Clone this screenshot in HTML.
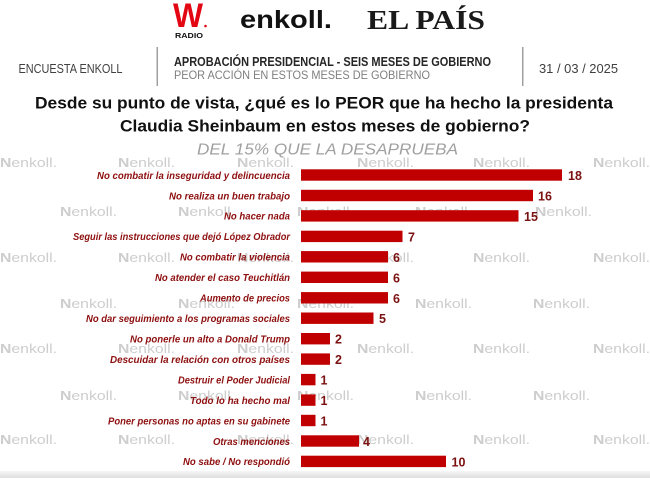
<!DOCTYPE html>
<html>
<head>
<meta charset="utf-8">
<style>
  html,body{margin:0;padding:0;background:#fff;}
  body{width:650px;height:478px;overflow:hidden;}
  svg{display:block;}
  .wm{font-family:"Liberation Sans",sans-serif;font-size:13px;fill:#cdcdcd;}
  .lbl{font-family:"Liberation Sans",sans-serif;font-size:10.5px;font-weight:bold;font-style:italic;fill:#8e0f0f;}
  .val{font-family:"Liberation Sans",sans-serif;font-size:12.5px;font-weight:bold;fill:#7b1111;}
</style>
</head>
<body>
<svg width="650" height="478" viewBox="0 0 650 478" xmlns="http://www.w3.org/2000/svg">
  <defs>
    <linearGradient id="bot" x1="0" y1="0" x2="0" y2="1">
      <stop offset="0" stop-color="#f6f6f6"/>
      <stop offset="1" stop-color="#dedede"/>
    </linearGradient>
  </defs>
  <rect width="650" height="478" fill="#fff"/>

  <!-- Logos -->
  <text x="173" y="27" font-family="Liberation Sans, sans-serif" font-weight="bold" font-size="34" fill="#e30613" textLength="30" lengthAdjust="spacingAndGlyphs">W</text>
  <circle cx="205.5" cy="26" r="1.3" fill="#e30613"/>
  <text x="175" y="38" font-family="Liberation Sans, sans-serif" font-weight="bold" font-size="7.5" fill="#111" textLength="28" lengthAdjust="spacingAndGlyphs">RADIO</text>
  <text x="240" y="28" font-family="Liberation Sans, sans-serif" font-weight="bold" font-size="25" fill="#111" textLength="92" lengthAdjust="spacingAndGlyphs">enkoll.</text>
  <text x="367" y="29" font-family="Liberation Serif, serif" font-weight="bold" font-size="27" fill="#1a1a1a" textLength="118" lengthAdjust="spacingAndGlyphs">EL PAÍS</text>

  <!-- Header row -->
  <text x="18.5" y="73" font-family="Liberation Sans, sans-serif" font-size="12.5" fill="#404040" textLength="104" lengthAdjust="spacingAndGlyphs">ENCUESTA ENKOLL</text>
  <rect x="156.5" y="47" width="1.5" height="39" fill="#a0a0a0"/>
  <rect x="522" y="47" width="1.5" height="39" fill="#a0a0a0"/>
  <text x="174" y="66" font-family="Liberation Sans, sans-serif" font-weight="bold" font-size="12.5" fill="#262626" textLength="317" lengthAdjust="spacingAndGlyphs">APROBACIÓN PRESIDENCIAL - SEIS MESES DE GOBIERNO</text>
  <text x="174" y="79" font-family="Liberation Sans, sans-serif" font-size="12" fill="#7f7f7f" textLength="256" lengthAdjust="spacingAndGlyphs">PEOR ACCIÓN EN ESTOS MESES DE GOBIERNO</text>
  <text x="539" y="73" font-family="Liberation Sans, sans-serif" font-size="12.5" fill="#404040" textLength="79" lengthAdjust="spacingAndGlyphs">31 / 03 / 2025</text>

  <!-- Title -->
  <text x="35" y="108.7" font-family="Liberation Sans, sans-serif" font-weight="bold" font-size="17" fill="#111" textLength="578" lengthAdjust="spacingAndGlyphs">Desde su punto de vista, ¿qué es lo PEOR que ha hecho la presidenta</text>
  <text x="120" y="131.3" font-family="Liberation Sans, sans-serif" font-weight="bold" font-size="17" fill="#111" textLength="410" lengthAdjust="spacingAndGlyphs">Claudia Sheinbaum en estos meses de gobierno?</text>
  <text x="197" y="154.7" font-family="Liberation Sans, sans-serif" font-style="italic" font-size="16" fill="#a0a0a0" textLength="261" lengthAdjust="spacingAndGlyphs">DEL 15% QUE LA DESAPRUEBA</text>

  <!-- Watermarks -->
  <g class="wm">
    <text x="0" y="167" textLength="57" lengthAdjust="spacingAndGlyphs"><tspan font-weight="bold">N</tspan>enkoll.</text>
    <text x="118" y="167" textLength="57" lengthAdjust="spacingAndGlyphs"><tspan font-weight="bold">N</tspan>enkoll.</text>
    <text x="237" y="167" textLength="57" lengthAdjust="spacingAndGlyphs"><tspan font-weight="bold">N</tspan>enkoll.</text>
    <text x="357" y="167" textLength="57" lengthAdjust="spacingAndGlyphs"><tspan font-weight="bold">N</tspan>enkoll.</text>
    <text x="473" y="167" textLength="57" lengthAdjust="spacingAndGlyphs"><tspan font-weight="bold">N</tspan>enkoll.</text>
    <text x="593" y="167" textLength="57" lengthAdjust="spacingAndGlyphs"><tspan font-weight="bold">N</tspan>enkoll.</text>
    <text x="60" y="216" textLength="57" lengthAdjust="spacingAndGlyphs"><tspan font-weight="bold">N</tspan>enkoll.</text>
    <text x="178" y="216" textLength="57" lengthAdjust="spacingAndGlyphs"><tspan font-weight="bold">N</tspan>enkoll.</text>
    <text x="297" y="216" textLength="57" lengthAdjust="spacingAndGlyphs"><tspan font-weight="bold">N</tspan>enkoll.</text>
    <text x="415" y="216" textLength="57" lengthAdjust="spacingAndGlyphs"><tspan font-weight="bold">N</tspan>enkoll.</text>
    <text x="535" y="216" textLength="57" lengthAdjust="spacingAndGlyphs"><tspan font-weight="bold">N</tspan>enkoll.</text>
    <text x="0" y="262" textLength="57" lengthAdjust="spacingAndGlyphs"><tspan font-weight="bold">N</tspan>enkoll.</text>
    <text x="118" y="262" textLength="57" lengthAdjust="spacingAndGlyphs"><tspan font-weight="bold">N</tspan>enkoll.</text>
    <text x="237" y="262" textLength="57" lengthAdjust="spacingAndGlyphs"><tspan font-weight="bold">N</tspan>enkoll.</text>
    <text x="357" y="262" textLength="57" lengthAdjust="spacingAndGlyphs"><tspan font-weight="bold">N</tspan>enkoll.</text>
    <text x="473" y="262" textLength="57" lengthAdjust="spacingAndGlyphs"><tspan font-weight="bold">N</tspan>enkoll.</text>
    <text x="593" y="262" textLength="57" lengthAdjust="spacingAndGlyphs"><tspan font-weight="bold">N</tspan>enkoll.</text>
    <text x="60" y="308" textLength="57" lengthAdjust="spacingAndGlyphs"><tspan font-weight="bold">N</tspan>enkoll.</text>
    <text x="178" y="308" textLength="57" lengthAdjust="spacingAndGlyphs"><tspan font-weight="bold">N</tspan>enkoll.</text>
    <text x="297" y="308" textLength="57" lengthAdjust="spacingAndGlyphs"><tspan font-weight="bold">N</tspan>enkoll.</text>
    <text x="415" y="308" textLength="57" lengthAdjust="spacingAndGlyphs"><tspan font-weight="bold">N</tspan>enkoll.</text>
    <text x="533" y="308" textLength="57" lengthAdjust="spacingAndGlyphs"><tspan font-weight="bold">N</tspan>enkoll.</text>
    <text x="0" y="353" textLength="57" lengthAdjust="spacingAndGlyphs"><tspan font-weight="bold">N</tspan>enkoll.</text>
    <text x="118" y="353" textLength="57" lengthAdjust="spacingAndGlyphs"><tspan font-weight="bold">N</tspan>enkoll.</text>
    <text x="237" y="353" textLength="57" lengthAdjust="spacingAndGlyphs"><tspan font-weight="bold">N</tspan>enkoll.</text>
    <text x="357" y="353" textLength="57" lengthAdjust="spacingAndGlyphs"><tspan font-weight="bold">N</tspan>enkoll.</text>
    <text x="473" y="353" textLength="57" lengthAdjust="spacingAndGlyphs"><tspan font-weight="bold">N</tspan>enkoll.</text>
    <text x="593" y="353" textLength="57" lengthAdjust="spacingAndGlyphs"><tspan font-weight="bold">N</tspan>enkoll.</text>
    <text x="60" y="400" textLength="57" lengthAdjust="spacingAndGlyphs"><tspan font-weight="bold">N</tspan>enkoll.</text>
    <text x="178" y="400" textLength="57" lengthAdjust="spacingAndGlyphs"><tspan font-weight="bold">N</tspan>enkoll.</text>
    <text x="297" y="400" textLength="57" lengthAdjust="spacingAndGlyphs"><tspan font-weight="bold">N</tspan>enkoll.</text>
    <text x="415" y="400" textLength="57" lengthAdjust="spacingAndGlyphs"><tspan font-weight="bold">N</tspan>enkoll.</text>
    <text x="533" y="400" textLength="57" lengthAdjust="spacingAndGlyphs"><tspan font-weight="bold">N</tspan>enkoll.</text>
    <text x="0" y="444" textLength="57" lengthAdjust="spacingAndGlyphs"><tspan font-weight="bold">N</tspan>enkoll.</text>
    <text x="118" y="444" textLength="57" lengthAdjust="spacingAndGlyphs"><tspan font-weight="bold">N</tspan>enkoll.</text>
    <text x="237" y="444" textLength="57" lengthAdjust="spacingAndGlyphs"><tspan font-weight="bold">N</tspan>enkoll.</text>
    <text x="357" y="444" textLength="57" lengthAdjust="spacingAndGlyphs"><tspan font-weight="bold">N</tspan>enkoll.</text>
    <text x="473" y="444" textLength="57" lengthAdjust="spacingAndGlyphs"><tspan font-weight="bold">N</tspan>enkoll.</text>
    <text x="593" y="444" textLength="57" lengthAdjust="spacingAndGlyphs"><tspan font-weight="bold">N</tspan>enkoll.</text>
  </g>

  <!-- Bars -->
  <g fill="#c00000">
    <rect x="301" y="169.3" width="261" height="11.4"/>
    <rect x="301" y="189.8" width="232" height="11.4"/>
    <rect x="301" y="210.2" width="217.5" height="11.4"/>
    <rect x="301" y="230.7" width="101.5" height="11.4"/>
    <rect x="301" y="251.1" width="87" height="11.4"/>
    <rect x="301" y="271.6" width="87" height="11.4"/>
    <rect x="301" y="292.1" width="87" height="11.4"/>
    <rect x="301" y="312.5" width="72.5" height="11.4"/>
    <rect x="301" y="333.0" width="29" height="11.4"/>
    <rect x="301" y="353.4" width="29" height="11.4"/>
    <rect x="301" y="373.9" width="14.5" height="11.4"/>
    <rect x="301" y="394.4" width="14.5" height="11.4"/>
    <rect x="301" y="414.8" width="14.5" height="11.4"/>
    <rect x="301" y="435.3" width="58" height="11.4"/>
    <rect x="301" y="455.7" width="145" height="11.4"/>
  </g>

  <!-- Labels -->
  <g class="lbl" text-anchor="end">
    <text x="290" y="178.8" textLength="193" lengthAdjust="spacingAndGlyphs">No combatir la inseguridad y delincuencia</text>
    <text x="290" y="199.3" textLength="121" lengthAdjust="spacingAndGlyphs">No realiza un buen trabajo</text>
    <text x="290" y="219.7" textLength="66" lengthAdjust="spacingAndGlyphs">No hacer nada</text>
    <text x="290" y="240.2" textLength="217" lengthAdjust="spacingAndGlyphs">Seguir las instrucciones que dejó López Obrador</text>
    <text x="290" y="260.6" textLength="110" lengthAdjust="spacingAndGlyphs">No combatir la violencia</text>
    <text x="290" y="281.1" textLength="135" lengthAdjust="spacingAndGlyphs">No atender el caso Teuchitlán</text>
    <text x="290" y="301.6" textLength="90" lengthAdjust="spacingAndGlyphs">Aumento de precios</text>
    <text x="290" y="322.0" textLength="204" lengthAdjust="spacingAndGlyphs">No dar seguimiento a los programas sociales</text>
    <text x="290" y="342.5" textLength="160" lengthAdjust="spacingAndGlyphs">No ponerle un alto a Donald Trump</text>
    <text x="290" y="362.9" textLength="180" lengthAdjust="spacingAndGlyphs">Descuidar la relación con otros países</text>
    <text x="290" y="383.4" textLength="112" lengthAdjust="spacingAndGlyphs">Destruir el Poder Judicial</text>
    <text x="290" y="403.9" textLength="100" lengthAdjust="spacingAndGlyphs">Todo lo ha hecho mal</text>
    <text x="290" y="424.3" textLength="182" lengthAdjust="spacingAndGlyphs">Poner personas no aptas en su gabinete</text>
    <text x="290" y="444.8" textLength="77" lengthAdjust="spacingAndGlyphs">Otras menciones</text>
    <text x="290" y="465.2" textLength="107" lengthAdjust="spacingAndGlyphs">No sabe / No respondió</text>
  </g>

  <!-- Values -->
  <g class="val">
    <text x="568" y="180">18</text>
    <text x="538" y="200.5">16</text>
    <text x="524" y="220.9">15</text>
    <text x="408" y="241.4">7</text>
    <text x="393" y="261.8">6</text>
    <text x="393" y="282.3">6</text>
    <text x="393" y="302.8">6</text>
    <text x="379" y="323.2">5</text>
    <text x="335" y="343.7">2</text>
    <text x="335" y="364.1">2</text>
    <text x="320.5" y="384.6">1</text>
    <text x="320.5" y="405.1">1</text>
    <text x="320.5" y="425.5">1</text>
    <text x="363" y="446.0">4</text>
    <text x="451.5" y="466.4">10</text>
  </g>

  <rect x="0" y="471" width="650" height="7" fill="url(#bot)"/>
</svg>
</body>
</html>
